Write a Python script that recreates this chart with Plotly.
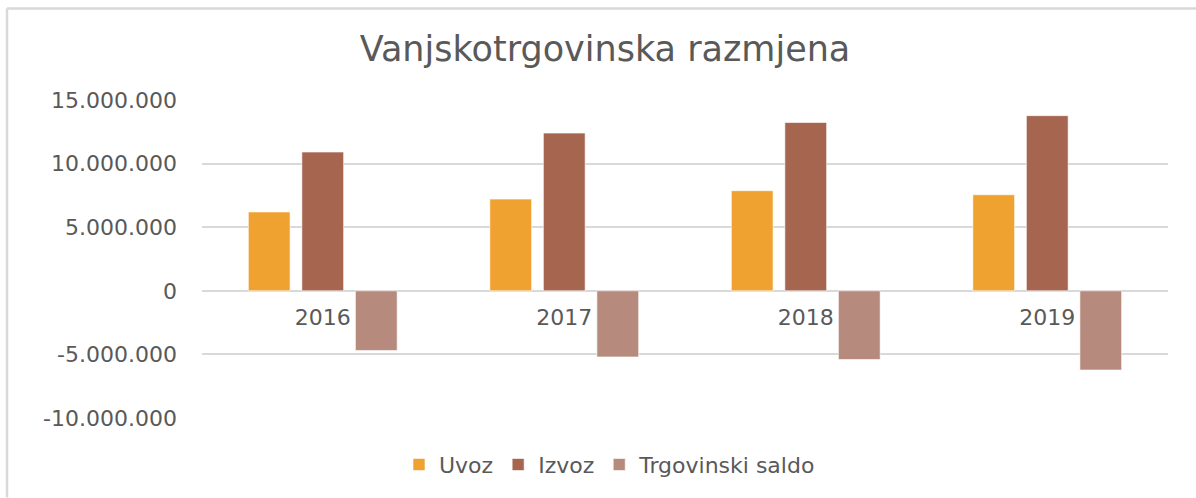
import plotly.graph_objects as go

years = ["2016", "2017", "2018", "2019"]
uvoz = [6200000, 7210000, 7870000, 7550000]
izvoz = [10910000, 12400000, 13230000, 13770000]
saldo = [-4690000, -5200000, -5400000, -6230000]

y_ticks = [-10000000, -5000000, 0, 5000000, 10000000, 15000000]
y_labels = ["-10.000.000", "-5.000.000", "0", "5.000.000", "10.000.000", "15.000.000"]

series_names = ["Uvoz", "Izvoz", "Trgovinski saldo"]
colors = ["#F0A230", "#A5654F", "#B68A7D"]

FONT = "DejaVu Sans"
GREY = "#595959"

fig = go.Figure()
for name, vals, col in zip(series_names, [uvoz, izvoz, saldo], colors):
    fig.add_trace(go.Bar(x=years, y=vals, name=name, marker_color=col,
                         marker_line=dict(width=1, color="rgba(255,255,255,0.6)")))

L, R, T, B = 202, 28, 100, 78
W, H = 1196, 498
pw, ph = W - L - R, H - T - B

def px(x):
    return (x - L) / pw

def py(y):
    return (H - B - y) / ph

fig.update_layout(
    width=W, height=H,
    margin=dict(l=L, r=R, t=T, b=B, pad=0),
    paper_bgcolor="white", plot_bgcolor="white",
    barmode="group", bargap=0.335, bargroupgap=0.22,
    font=dict(family=FONT, color=GREY),
    title=dict(text="Vanjskotrgovinska razmjena", xref="container", x=605 / W, xanchor="center",
               yref="container", y=1 - 49 / H, yanchor="middle",
               font=dict(family=FONT, size=35, color=GREY)),
    legend=dict(orientation="h", x=px(610), xanchor="center", y=py(467), yanchor="middle",
                font=dict(family=FONT, size=22, color=GREY), itemwidth=30),
    xaxis=dict(type="category", anchor="free", position=0.4, showline=False,
               ticks="", tickfont=dict(family=FONT, size=22, color=GREY),
               ticklabelstandoff=11, showgrid=False, zeroline=False),
    yaxis=dict(range=[-10000000, 15000000], tickvals=y_ticks, ticktext=y_labels,
               tickfont=dict(family=FONT, size=22, color=GREY), ticklabelstandoff=24,
               showgrid=True, gridcolor="#D9D9D9", gridwidth=1.5, zeroline=False,
               showline=False),
    showlegend=True,
)

# chart frame (top and left edges visible)
fig.add_shape(type="line", xref="paper", yref="paper", x0=px(7), x1=px(W), y0=py(8), y1=py(8),
              line=dict(color="#D9D9D9", width=2.5))
fig.add_shape(type="line", xref="paper", yref="paper", x0=px(7), x1=px(7), y0=py(8), y1=py(H + 2),
              line=dict(color="#D9D9D9", width=2.5))

fig.write_html("out.html", config={"displayModeBar": False},
               post_script="document.body.style.margin='0';")
